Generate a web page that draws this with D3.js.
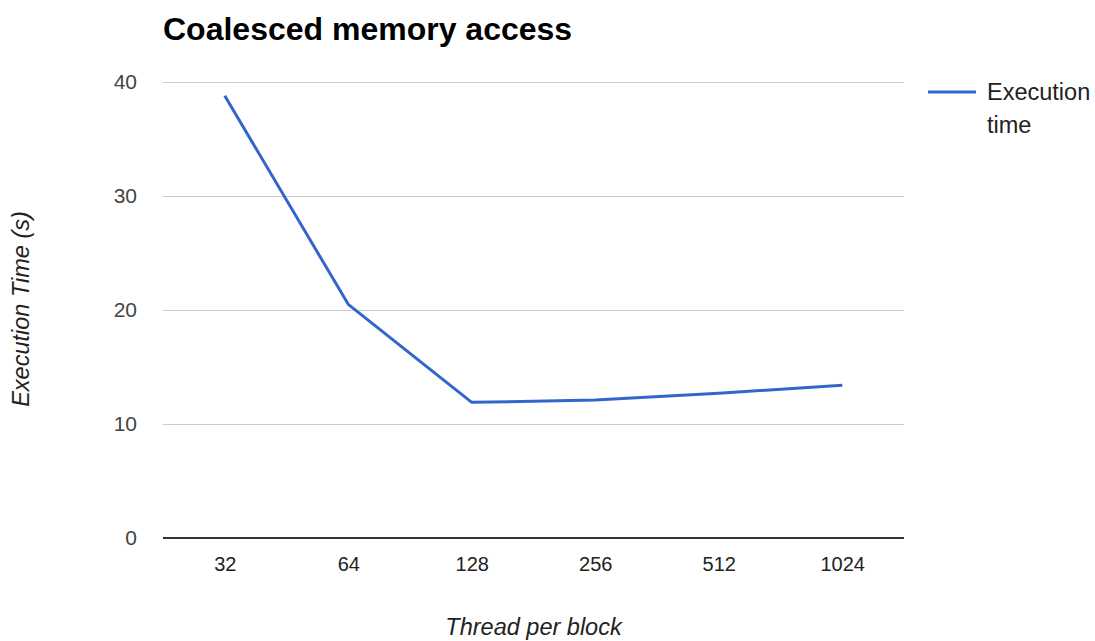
<!DOCTYPE html>
<html>
<head>
<meta charset="utf-8">
<script src="https://cdn.jsdelivr.net/npm/d3@7"></script>
<style>
  html, body { margin: 0; padding: 0; background: #fff; }
  svg { display: block; font-family: Arial, "Liberation Sans", Helvetica, sans-serif; }
</style>
</head>
<body>
<svg id="chart" width="1095" height="641"></svg>
<script>
// Threads per block and measured execution time (seconds)
const threadCounts = ["32", "64", "128", "256", "512", "1024"];
const executionTimes = [38.8, 20.5, 11.9, 12.1, 12.7, 13.4];
const yTicks = [0, 10, 20, 30, 40];
const seriesName = ["Execution", "time"];

const svg = d3.select("#chart");
const margin = { left: 163, right: 191, top: 82, bottom: 103 };
const W = 1095, H = 641;
const plotW = W - margin.left - margin.right;
const plotH = H - margin.top - margin.bottom;

const x = d3.scalePoint().domain(threadCounts).range([0, plotW]).padding(0.5);
const y = d3.scaleLinear().domain([0, 40]).range([plotH, 0]);

const g = svg.append("g").attr("transform", `translate(${margin.left},${margin.top})`);

// Horizontal gridlines and y tick labels
const yAxis = d3.axisLeft(y).tickValues(yTicks).tickSize(-plotW).tickPadding(26).tickFormat(d3.format("d"));
const yG = g.append("g").call(yAxis);
yG.select(".domain").remove();
yG.selectAll(".tick line").attr("stroke", "#cccccc").attr("stroke-width", 1);
yG.selectAll(".tick text").attr("fill", "#444").style("font-size", "21px");

// Baseline at zero
g.append("line")
  .attr("x1", 0).attr("x2", plotW)
  .attr("y1", y(0)).attr("y2", y(0))
  .attr("stroke", "#333").attr("stroke-width", 2);

// Category labels along the bottom
const xAxis = d3.axisBottom(x).tickSize(0).tickPadding(19);
const xG = g.append("g").attr("transform", `translate(0,${plotH})`).call(xAxis);
xG.select(".domain").remove();
xG.selectAll(".tick text").attr("fill", "#222").style("font-size", "20px");

// Series line
const line = d3.line()
  .x((d, i) => x(threadCounts[i]))
  .y(d => y(d));
g.append("path")
  .datum(executionTimes)
  .attr("fill", "none")
  .attr("stroke", "#3366cc")
  .attr("stroke-width", 3)
  .attr("stroke-linejoin", "round")
  .attr("d", line);

// Title
svg.append("text")
  .attr("x", 163).attr("y", 40)
  .attr("fill", "#000")
  .style("font-size", "32px").style("font-weight", "bold")
  .text("Coalesced memory access");

// Axis titles
svg.append("text")
  .attr("x", margin.left + plotW / 2).attr("y", 635)
  .attr("text-anchor", "middle")
  .attr("fill", "#222")
  .style("font-size", "23.5px").style("font-style", "italic")
  .text("Thread per block");

svg.append("text")
  .attr("transform", `translate(29,${margin.top + plotH / 2 - 1}) rotate(-90)`)
  .attr("text-anchor", "middle")
  .attr("fill", "#222")
  .style("font-size", "23.5px").style("font-style", "italic")
  .text("Execution Time (s)");

// Legend
const lg = svg.append("g").attr("transform", "translate(928,92)");
lg.append("line").attr("x1", 0).attr("x2", 48).attr("y1", 0).attr("y2", 0)
  .attr("stroke", "#3366cc").attr("stroke-width", 3);
lg.selectAll("text.leg").data(seriesName).join("text")
  .attr("class", "leg")
  .attr("x", 59).attr("y", (d, i) => 8 + i * 33)
  .attr("fill", "#222")
  .style("font-size", "23.5px")
  .text(d => d);
</script>
</body>
</html>
